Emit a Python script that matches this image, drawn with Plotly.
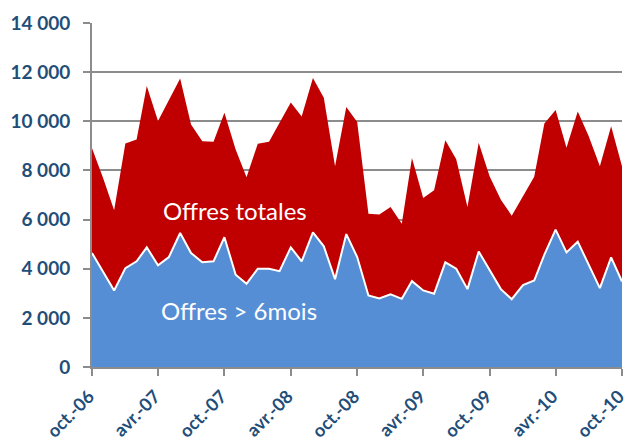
import plotly.graph_objects as go
import pandas as pd

months = pd.date_range("2006-10-01", "2010-10-01", freq="MS").strftime("%Y-%m-%d").tolist()

offres_totales = [8900, 7670, 6380, 9100, 9260, 11440, 10010, 10890, 11740, 9870,
                  9190, 9170, 10350, 8850, 7720, 9085, 9170, 9940, 10760, 10190,
                  11760, 10960, 8170, 10580, 9970, 6240, 6210, 6515, 5830, 8510,
                  6880, 7190, 9230, 8450, 6515, 9125, 7760, 6810, 6160, 6950,
                  7740, 9910, 10460, 8920, 10400, 9400, 8170, 9800, 8170]

offres_6mois = [4640, 3890, 3115, 4025, 4300, 4870, 4135, 4475, 5455, 4640,
                4260, 4300, 5280, 3755, 3390, 4000, 4000, 3900, 4870, 4300,
                5480, 4910, 3575, 5410, 4475, 2910, 2790, 2960, 2775, 3495,
                3115, 2980, 4260, 4000, 3170, 4700, 3930, 3170, 2760, 3330,
                3520, 4570, 5590, 4665, 5100, 4160, 3210, 4460, 3480]

tick_dates = ["2006-10-01", "2007-04-01", "2007-10-01", "2008-04-01", "2008-10-01",
              "2009-04-01", "2009-10-01", "2010-04-01", "2010-10-01"]
tick_labels = ["oct.-06", "avr.-07", "oct.-07", "avr.-08", "oct.-08",
               "avr.-09", "oct.-09", "avr.-10", "oct.-10"]

y_ticks = [0, 2000, 4000, 6000, 8000, 10000, 12000, 14000]
y_labels = ["0", "2 000", "4 000", "6 000", "8 000", "10 000", "12 000", "14 000"]

FONT = "Lato, Open Sans, sans-serif"
y_tick_font = dict(family=FONT, size=19, color="#1F4E79", weight="bold")
x_tick_font = dict(family=FONT, size=18, color="#1F4E79", weight="bold")

fig = go.Figure()
fig.add_trace(go.Scatter(x=months, y=offres_totales, mode="lines", fill="tozeroy",
                         line=dict(color="#C00000", width=0), fillcolor="#C00000",
                         name="Offres totales", hoverinfo="skip"))
fig.add_trace(go.Scatter(x=months, y=offres_6mois, mode="lines", fill="tozeroy",
                         line=dict(color="white", width=2), fillcolor="#558ED5",
                         name="Offres > 6mois", hoverinfo="skip"))

fig.add_annotation(x="2007-10-29", y=6365, text="Offres totales", showarrow=False,
                   font=dict(family=FONT, size=24, color="white"))
fig.add_annotation(x="2007-11-09", y=2285, text="Offres > 6mois", showarrow=False,
                   font=dict(family=FONT, size=24, color="white"))

fig.update_layout(
    width=625, height=446,
    margin=dict(l=92, r=3, t=23, b=79),
    plot_bgcolor="white", paper_bgcolor="white",
    showlegend=False,
    xaxis=dict(type="date", range=["2006-10-01", "2010-10-01"], automargin=False,
               tickvals=tick_dates, ticktext=tick_labels, tickangle=-45,
               tickfont=x_tick_font, ticklabeloverflow="allow",
               ticklabelstandoff=3, ticklabelshift=-3,
               showgrid=False, showline=True, linecolor="#8C8C8C", linewidth=2,
               ticks="outside", ticklen=7, tickcolor="#8C8C8C", tickwidth=2, zeroline=False),
    yaxis=dict(range=[0, 14000], tickvals=y_ticks, ticktext=y_labels, automargin=False,
               tickfont=y_tick_font, ticklabelstandoff=9,
               showgrid=True, gridcolor="#8C8C8C", gridwidth=2,
               showline=True, linecolor="#8C8C8C", linewidth=2,
               ticks="outside", ticklen=7, tickcolor="#8C8C8C", tickwidth=2, zeroline=False),
)

fig.write_html(
    "out.html",
    config={"displayModeBar": False, "staticPlot": True},
    post_script="document.body.style.margin='0';document.body.style.overflow='hidden';",
)
